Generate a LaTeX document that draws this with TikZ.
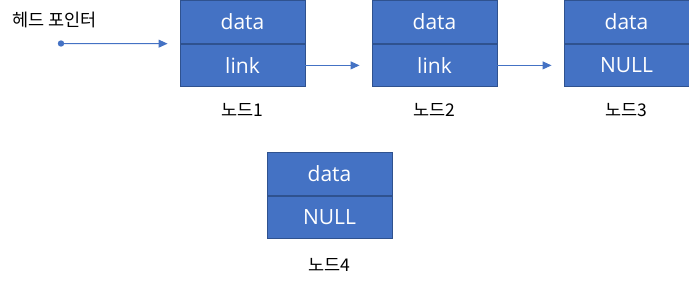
\documentclass[tikz,border=0pt]{standalone}
\usepackage{fontspec}
\setmainfont{Open Sans}
\newfontfamily\krfont{Noto Sans CJK KR}
\usetikzlibrary{arrows.meta}
\definecolor{boxfill}{HTML}{4472C4}
\definecolor{boxline}{HTML}{2F528F}
\begin{document}
\begin{tikzpicture}[x=1pt,y=-1pt,
  cell/.style={draw=boxline,fill=boxfill,line width=0.9pt,minimum width=125pt,minimum height=42.5pt,inner sep=0pt,text=white,font=\fontsize{21}{24}\selectfont},
  lbl/.style={font=\krfont\fontsize{17.5}{20}\selectfont,text=black,inner sep=0pt},
  conn/.style={draw=boxfill,line width=1pt,-{Triangle[length=9pt,width=8pt]},shorten >=12pt}]
\useasboundingbox (0,0) rectangle (689,288);
% node 1
\node[cell] (n1d) at (242.5,22) {data};
\node[cell,anchor=north] (n1l) at (n1d.south) {link};
% node 2
\node[cell] (n2d) at (434.5,22) {data};
\node[cell,anchor=north] (n2l) at (n2d.south) {link};
% node 3
\node[cell] (n3d) at (626.5,22) {data};
\node[cell,anchor=north] (n3l) at (n3d.south) {NULL};
% node 4
\node[cell] (n4d) at (329.5,174) {data};
\node[cell,anchor=north] (n4l) at (n4d.south) {NULL};
% labels
\node[lbl] (t1) at (242.5,110) {노드1};
\node[lbl] (t2) at (434.5,110) {노드2};
\node[lbl] (t3) at (626.5,110) {노드3};
\node[lbl] (t4) at (329.5,265) {노드4};
\node[lbl,anchor=west] (hpt) at (12,20) {헤드 포인터};
% head pointer
\coordinate (hp) at (61,43.5);
\fill[boxfill] (hp) circle (3.2pt);
\draw[conn] (hp) -- (n1l.north west);
\draw[conn] (n1l.east) -- (n2l.west);
\draw[conn] (n2l.east) -- (n3l.west);
\end{tikzpicture}
\end{document}
